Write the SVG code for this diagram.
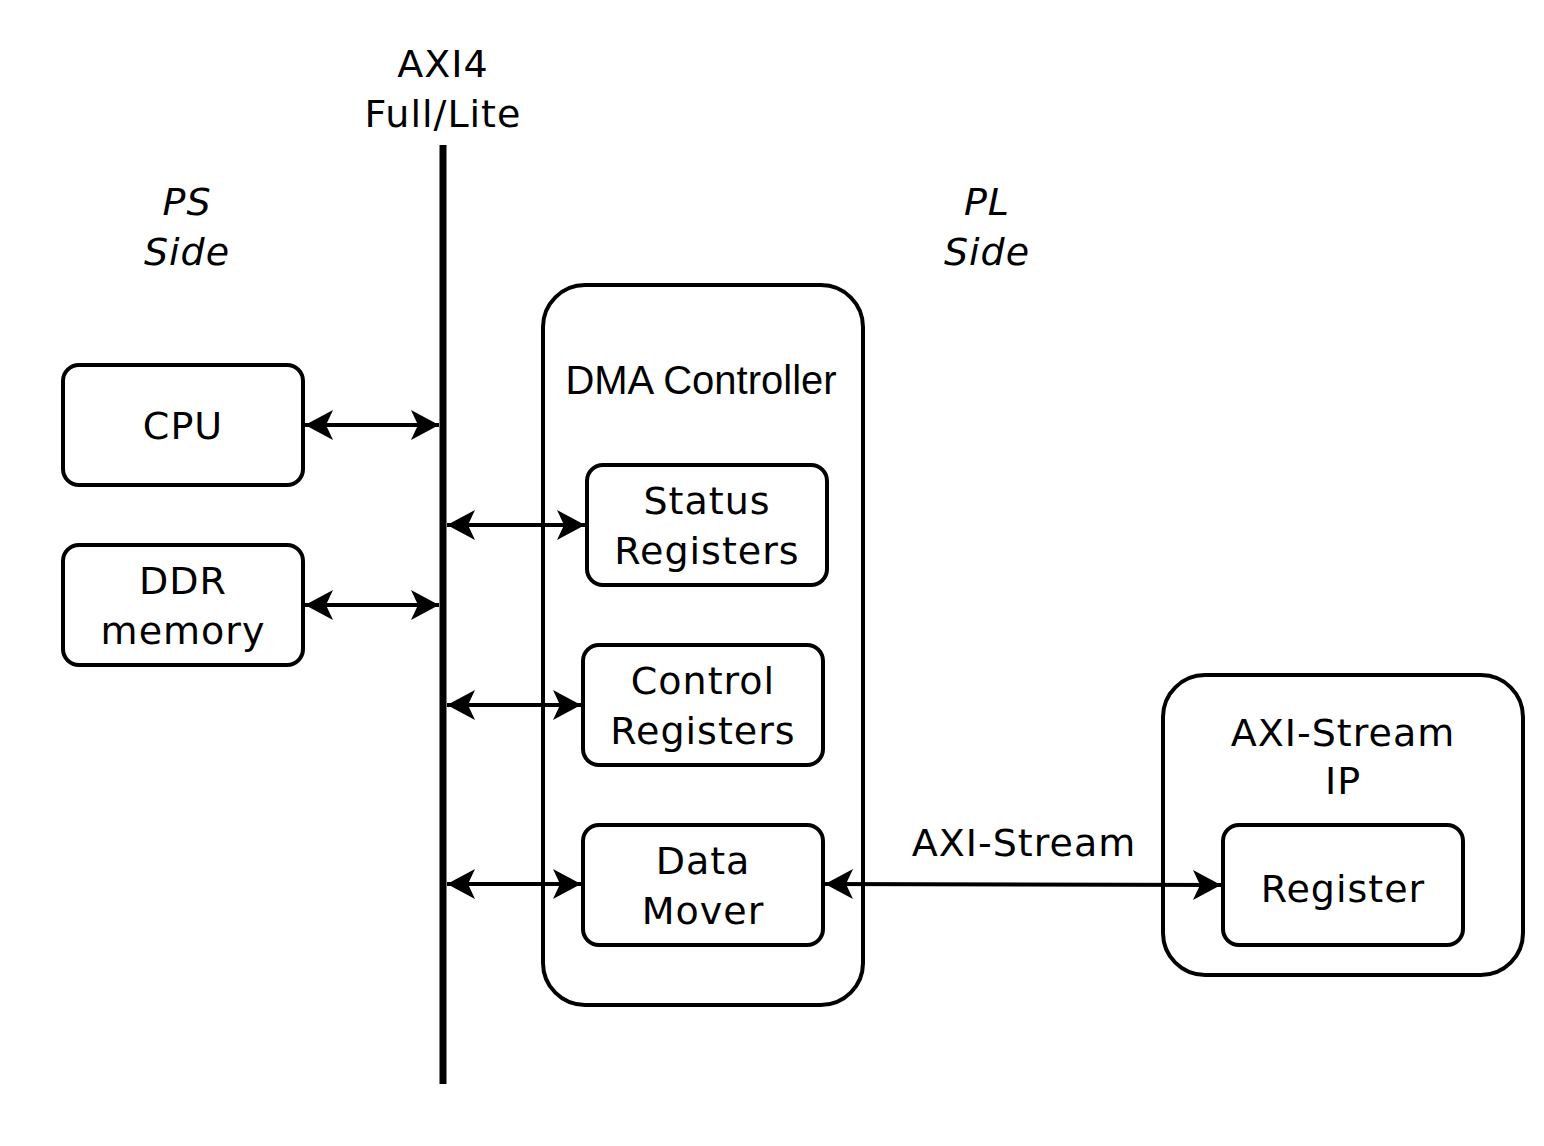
<svg xmlns="http://www.w3.org/2000/svg" width="1544" height="1146" viewBox="0 0 1544 1146">
<style>
.box{fill:#fff;stroke:#000;stroke-width:4}
.t{font-family:"DejaVu Sans",sans-serif;font-size:38px;letter-spacing:1px;fill:#000;text-anchor:middle}
.i{font-style:italic}
.h{font-family:"Liberation Sans",Arial,sans-serif;font-size:40px;fill:#000;text-anchor:middle}
.c{stroke:#000;stroke-width:4;fill:none;marker-start:url(#a);marker-end:url(#a)}
</style>
<defs>
<marker id="a" viewBox="0 0 30 32" refX="29" refY="16" markerWidth="30" markerHeight="32" markerUnits="userSpaceOnUse" orient="auto-start-reverse">
<path d="M29 16 L1 1 L8 16 L1 31 Z" fill="#000"/>
</marker>
</defs>
<rect width="1544" height="1146" fill="#fff"/>
<g id="labels">
<text class="t" x="443" y="77">AXI4</text>
<text class="t" x="443" y="127">Full/Lite</text>
<text class="t i" x="187" y="215">PS</text>
<text class="t i" x="187" y="265">Side</text>
<text class="t i" x="987" y="215">PL</text>
<text class="t i" x="987" y="265">Side</text>
</g>
<g id="bus">
<line x1="443" y1="145" x2="443" y2="1084" stroke="#000" stroke-width="7"/>
</g>
<g id="cpu">
<rect class="box" x="63" y="365" width="240" height="120" rx="16"/>
<text class="t" x="183" y="439">CPU</text>
</g>
<g id="ddr">
<rect class="box" x="63" y="545" width="240" height="120" rx="16"/>
<text class="t" x="183" y="594">DDR</text>
<text class="t" x="183" y="644">memory</text>
</g>
<g id="dma">
<rect class="box" x="543" y="285" width="320" height="720" rx="42"/>
<text class="h" x="701" y="394">DMA Controller</text>
</g>
<g id="status">
<rect class="box" x="587" y="465" width="240" height="120" rx="16"/>
<text class="t" x="707" y="514">Status</text>
<text class="t" x="707" y="564">Registers</text>
</g>
<g id="control">
<rect class="box" x="583" y="645" width="240" height="120" rx="16"/>
<text class="t" x="703" y="694">Control</text>
<text class="t" x="703" y="744">Registers</text>
</g>
<g id="datamover">
<rect class="box" x="583" y="825" width="240" height="120" rx="16"/>
<text class="t" x="703" y="874">Data</text>
<text class="t" x="703" y="924">Mover</text>
</g>
<g id="axisip">
<rect class="box" x="1163" y="675" width="360" height="300" rx="42"/>
<text class="t" x="1343" y="746">AXI-Stream</text>
<text class="t" x="1343" y="794">IP</text>
</g>
<g id="register">
<rect class="box" x="1223" y="825" width="240" height="120" rx="16"/>
<text class="t" x="1343" y="902">Register</text>
</g>
<g id="connectors">
<line class="c" x1="305" y1="425" x2="439" y2="425"/>
<line class="c" x1="305" y1="605" x2="439" y2="605"/>
<line class="c" x1="447" y1="525" x2="585" y2="525"/>
<line class="c" x1="447" y1="705" x2="581" y2="705"/>
<line class="c" x1="447" y1="884" x2="581" y2="884"/>
<line class="c" x1="825" y1="884" x2="1221" y2="885"/>
<text class="t" x="1024" y="856">AXI-Stream</text>
</g>
</svg>
